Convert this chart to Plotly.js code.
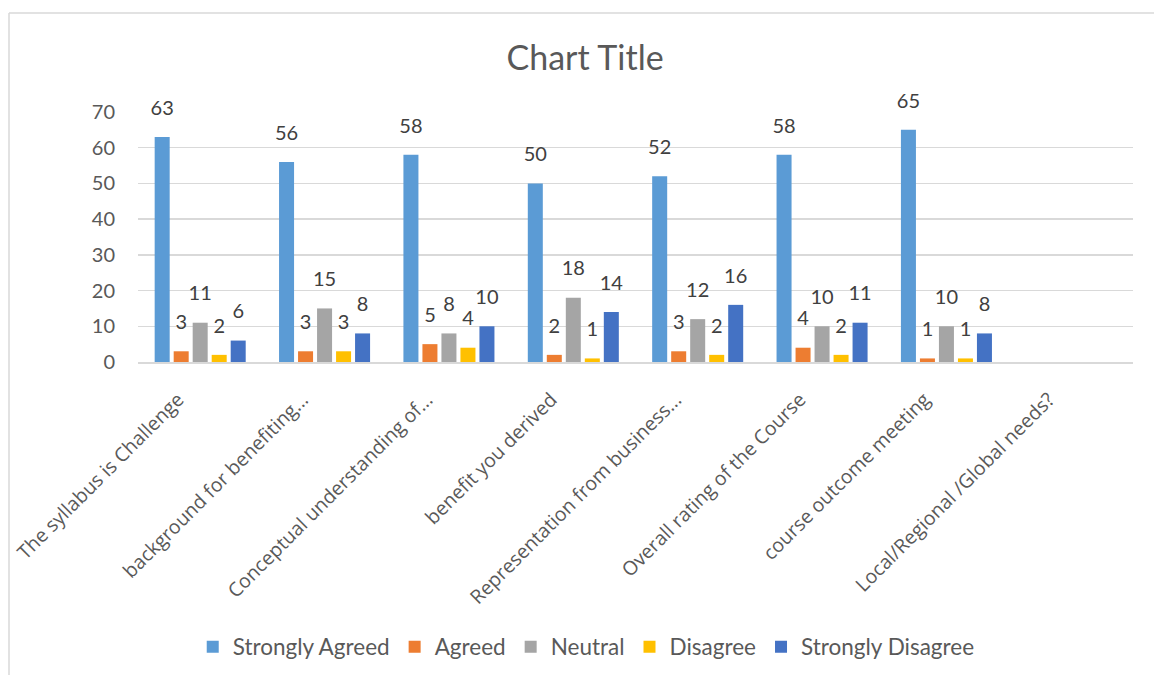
<!DOCTYPE html>
<html>
<head>
<meta charset="utf-8">
<script src="https://cdn.plot.ly/plotly-3.0.1.min.js"></script>
<style>html,body{margin:0;padding:0;background:#fff;}#chart{width:1154px;height:675px;}</style>
</head>
<body>
<div id="chart"></div>
<script>
const categories = [
  "The syllabus is Challenge",
  "background for benefiting...",
  "Conceptual understanding of...",
  "benefit you derived",
  "Representation from business...",
  "Overall rating of the Course",
  "course outcome meeting",
  "Local/Regional /Global needs?"
];
const seriesNames = ["Strongly Agreed", "Agreed", "Neutral", "Disagree", "Strongly Disagree"];
const stronglyAgreed   = [63, 56, 58, 50, 52, 58, 65, null];
const agreed           = [3, 3, 5, 2, 3, 4, 1, null];
const neutral          = [11, 15, 8, 18, 12, 10, 10, null];
const disagree         = [2, 3, 4, 1, 2, 2, 1, null];
const stronglyDisagree = [6, 8, 10, 14, 16, 11, 8, null];
const yTicks = [0, 10, 20, 30, 40, 50, 60, 70];
const colors = ["#5B9BD5", "#ED7D31", "#A5A5A5", "#FFC000", "#4472C4"];

const allSeries = [stronglyAgreed, agreed, neutral, disagree, stronglyDisagree];
const font = "Lato, 'Open Sans', sans-serif";
const BARGAP = 0.236;

const barTraces = allSeries.map((vals, i) => ({
  type: "bar",
  name: seriesNames[i],
  x: categories,
  y: vals,
  offsetgroup: "g" + i,
  marker: { color: colors[i] },
  hoverinfo: "x+y+name"
}));

const labelTraces = allSeries.map((vals, i) => ({
  type: "scatter",
  mode: "markers+text",
  name: seriesNames[i] + " labels",
  showlegend: false,
  x: categories,
  y: vals,
  offsetgroup: "g" + i,
  marker: { size: 26, color: "rgba(0,0,0,0)" },
  text: vals.map(v => v === null ? "" : String(v)),
  textposition: "top center",
  cliponaxis: false,
  textfont: { family: font, size: 20, color: "#404040" },
  hoverinfo: "skip"
}));

const layout = {
  width: 1154,
  height: 675,
  margin: { l: 138, r: 21, t: 112, b: 313 },
  paper_bgcolor: "#ffffff",
  plot_bgcolor: "#ffffff",
  barmode: "group",
  bargap: BARGAP,
  bargroupgap: 0.21,
  scattermode: "group",
  scattergap: BARGAP,
  title: {
    text: "Chart Title",
    font: { family: font, size: 34, color: "#595959" },
    x: 0.507, xref: "container", xanchor: "center",
    y: (675 - 58) / 675, yref: "container", yanchor: "middle"
  },
  xaxis: {
    type: "category",
    tickangle: -45,
    tickfont: { family: "'Open Sans', sans-serif", size: 19.5, color: "#595959" },
    showgrid: false,
    showline: true,
    linecolor: "#D9D9D9",
    linewidth: 1.5,
    ticks: "",
    ticklabelshift: -22,
    ticklabelstandoff: 17,
    automargin: false
  },
  yaxis: {
    range: [0, 70],
    tickvals: yTicks,
    ticktext: yTicks.map(String),
    tickfont: { family: font, size: 20, color: "#595959" },
    showgrid: true,
    gridcolor: "#D9D9D9",
    gridwidth: 1.5,
    zeroline: false,
    showline: false,
    ticks: "",
    ticklabelstandoff: 22,
    automargin: false
  },
  legend: {
    orientation: "h",
    xref: "container", x: 0.508, xanchor: "center",
    yref: "container", y: (675 - 647) / 675, yanchor: "middle",
    font: { family: font, size: 22.5, color: "#595959" },
    itemclick: false,
    traceorder: "normal"
  },
  shapes: [
    {
      type: "line", xref: "paper", yref: "paper",
      x0: (9 - 138) / 995, x1: (1154 - 138) / 995,
      y0: (362 - 13) / 250, y1: (362 - 13) / 250,
      line: { color: "#D9D9D9", width: 1.5 }, layer: "below"
    },
    {
      type: "line", xref: "paper", yref: "paper",
      x0: (9 - 138) / 995, x1: (9 - 138) / 995,
      y0: (362 - 675) / 250, y1: (362 - 13) / 250,
      line: { color: "#D9D9D9", width: 1.5 }, layer: "below"
    }
  ],
  showlegend: true
};

Plotly.newPlot("chart", barTraces.concat(labelTraces), layout, { displayModeBar: false, staticPlot: true });
</script>
</body>
</html>
